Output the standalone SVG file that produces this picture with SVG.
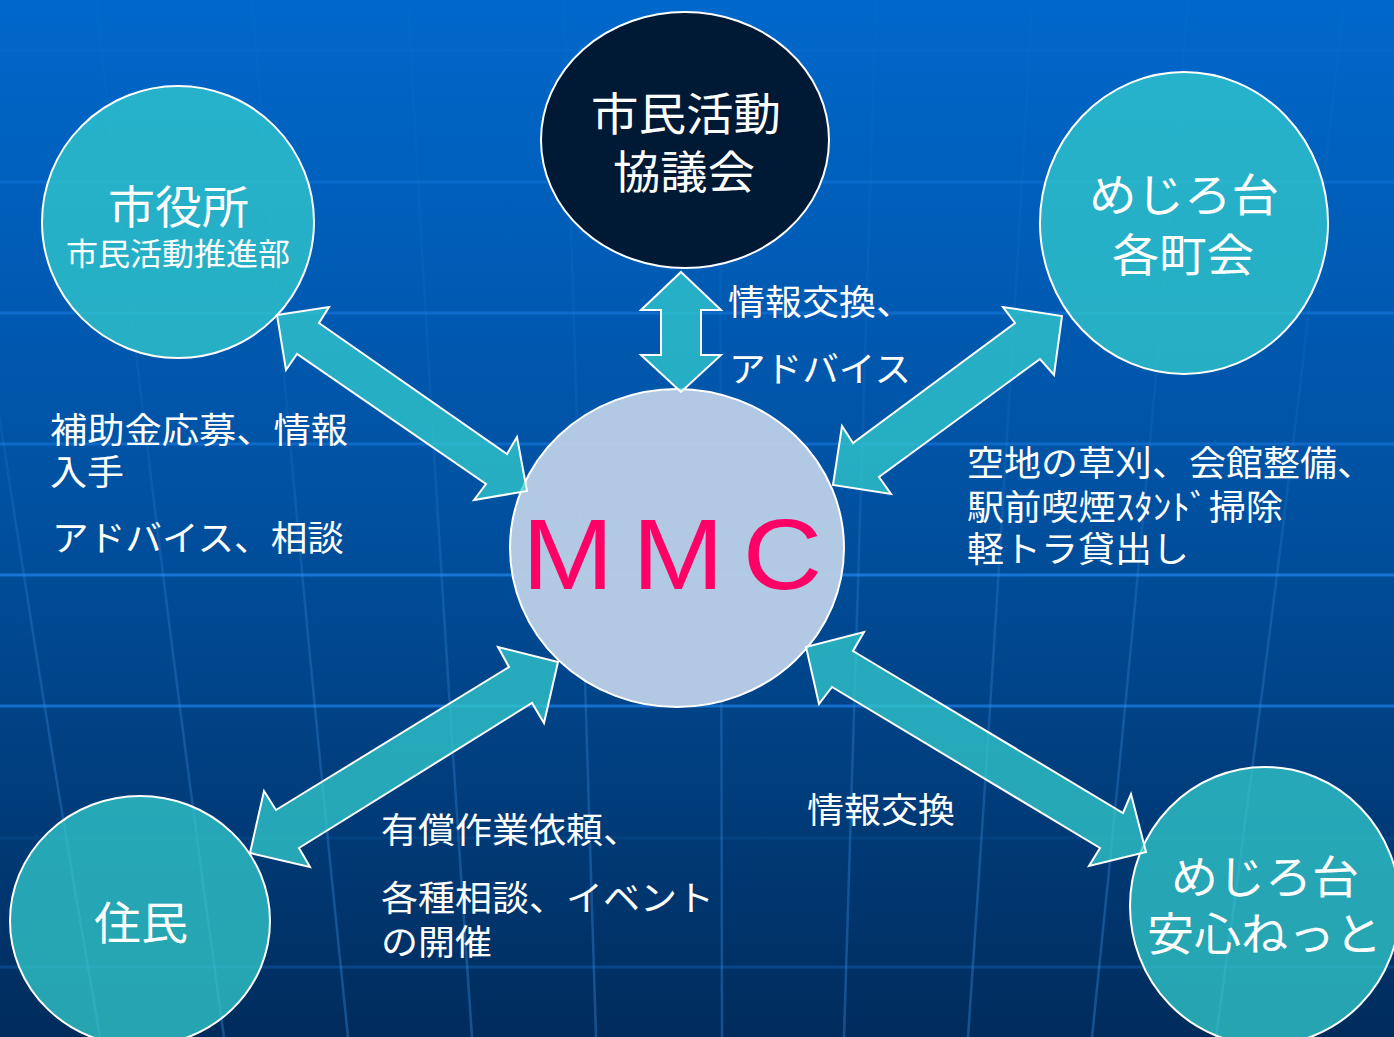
<svg xmlns="http://www.w3.org/2000/svg" width="1394" height="1037" viewBox="0 0 1394 1037">
  <defs>
    <linearGradient id="bg" x1="0" y1="0" x2="0" y2="1">
      <stop offset="0" stop-color="#0068cc"/>
      <stop offset="0.5" stop-color="#00509f"/>
      <stop offset="1" stop-color="#002c5c"/>
    </linearGradient>
    <linearGradient id="vline" gradientUnits="userSpaceOnUse" x1="0" y1="0" x2="0" y2="1037">
      <stop offset="0" stop-color="#3a8ee0" stop-opacity="0.03"/>
      <stop offset="0.4" stop-color="#3a8ee0" stop-opacity="0.12"/>
      <stop offset="0.6" stop-color="#3a8ee0" stop-opacity="0.28"/>
      <stop offset="1" stop-color="#3a8ee0" stop-opacity="0.38"/>
    </linearGradient>
    <style>
      .hl { stroke: #1f86f0; stroke-width: 3; fill: none; }
      .vl { stroke: url(#vline); stroke-width: 2.5; fill: none; }
      .teal { fill: #33cccc; fill-opacity: 0.75; stroke: #ffffff; stroke-width: 2; }
      .dark { fill: #001a36; stroke: #ffffff; stroke-width: 2; }
      .mmc { fill: #bcd0e8; fill-opacity: 0.95; stroke: #ffffff; stroke-width: 2; }
      .arrow { fill: #33cccc; fill-opacity: 0.75; stroke: #ffffff; stroke-width: 2; stroke-linejoin: miter; }
      .t { fill: #ffffff; font-family: "Noto Sans CJK JP", "Noto Sans CJK SC", sans-serif; }
      .big { font-size: 45px; }
      .mid { font-size: 31px; }
      .lab { font-size: 35px; }
      .mmct { fill: #ff0066; font-family: "Liberation Sans", Arial, sans-serif; font-size: 100px; letter-spacing: 17px; }
    </style>
  </defs>

  <g id="background">
    <rect x="0" y="0" width="1394" height="1037" fill="url(#bg)"/>
    <g id="grid-h">
      <line class="hl" x1="0" y1="50" x2="1394" y2="50" stroke-opacity="0.1"/>
      <line class="hl" x1="0" y1="182" x2="1394" y2="182" stroke-opacity="0.3"/>
      <line class="hl" x1="0" y1="313" x2="1394" y2="313" stroke-opacity="0.4"/>
      <line class="hl" x1="0" y1="444" x2="1394" y2="444" stroke-opacity="0.45"/>
      <line class="hl" x1="0" y1="575" x2="1394" y2="575" stroke-opacity="0.7"/>
      <line class="hl" x1="0" y1="706" x2="1394" y2="706" stroke-opacity="0.65"/>
      <line class="hl" x1="0" y1="838" x2="1394" y2="838" stroke-opacity="0.1"/>
      <line class="hl" x1="0" y1="967" x2="1394" y2="967" stroke-opacity="0.25"/>
    </g>
    <g id="grid-v">
      <path class="vl" d="M -60 0 Q 10 518 100 1037"/>
      <path class="vl" d="M 96 0 Q 152 518 224 1037"/>
      <path class="vl" d="M 252 0 Q 294 518 348 1037"/>
      <path class="vl" d="M 408 0 Q 436 518 472 1037"/>
      <path class="vl" d="M 564 0 Q 578 518 596 1037"/>
      <path class="vl" d="M 720 0 Q 720 518 722 1037"/>
      <path class="vl" d="M 876 0 Q 862 518 844 1037"/>
      <path class="vl" d="M 1032 0 Q 1004 518 968 1037"/>
      <path class="vl" d="M 1188 0 Q 1146 518 1092 1037"/>
      <path class="vl" d="M 1344 0 Q 1288 518 1216 1037"/>
    </g>
  </g>

  <g id="node-shiyakusho">
    <ellipse class="teal" cx="178" cy="222" rx="136" ry="136"/>
    <text class="t big" x="108" y="224" textLength="141" lengthAdjust="spacingAndGlyphs">市役所</text>
    <text class="t mid" x="66" y="265" textLength="224" lengthAdjust="spacingAndGlyphs">市民活動推進部</text>
  </g>

  <g id="node-kyogikai">
    <ellipse class="dark" cx="685" cy="140" rx="144" ry="128"/>
    <text class="t big" x="591" y="131" textLength="190" lengthAdjust="spacingAndGlyphs">市民活動</text>
    <text class="t big" x="613" y="189" textLength="142" lengthAdjust="spacingAndGlyphs">協議会</text>
  </g>

  <g id="node-chokai">
    <ellipse class="teal" cx="1184" cy="223" rx="144" ry="151"/>
    <text class="t big" x="1089" y="212" textLength="190" lengthAdjust="spacingAndGlyphs">めじろ台</text>
    <text class="t big" x="1112" y="272" textLength="142" lengthAdjust="spacingAndGlyphs">各町会</text>
  </g>

  <g id="node-mmc">
    <ellipse class="mmc" cx="677" cy="548" rx="167" ry="159"/>
    <text class="mmct" transform="translate(522,589) scale(1.1,1)" x="0" y="0">MMC</text>
  </g>

  <g id="node-jumin">
    <ellipse class="teal" cx="140" cy="921" rx="130" ry="125"/>
    <text class="t big" x="94" y="940" textLength="94" lengthAdjust="spacingAndGlyphs">住民</text>
  </g>

  <g id="node-anshin">
    <ellipse class="teal" cx="1265" cy="906" rx="135" ry="139"/>
    <text class="t big" x="1171" y="894" textLength="188" lengthAdjust="spacingAndGlyphs">めじろ台</text>
    <text class="t big" x="1147" y="951" textLength="235" lengthAdjust="spacingAndGlyphs">安心ねっと</text>
  </g>

  <g id="connectors">
    <polygon class="arrow" points="277,315 329,307 319,323 507,454 517,437 527,491 474,500 486,484 297,354 286,370"/>
    <polygon class="arrow" points="681,272 721,310 701,310 701,355 721,355 681,392 641,355 661,355 661,310 641,310"/>
    <polygon class="arrow" points="1062,316 1054,375 1040,359 879,477 891,494 833,485 842,426 853,443 1015,323 1003,307"/>
    <polygon class="arrow" points="558,662 544,723 532,703 299,848 310,867 250,853 264,791 276,810 509,667 498,647"/>
    <polygon class="arrow" points="806,647 864,632 853,651 1123,813 1131,794 1146,852 1089,866 1100,848 832,687 819,704"/>
  </g>

  <g id="labels">
    <text class="t lab" x="728" y="315" textLength="185" lengthAdjust="spacingAndGlyphs">情報交換、</text>
    <text class="t lab" x="729" y="382" textLength="182" lengthAdjust="spacingAndGlyphs">アドバイス</text>
    <text class="t lab" x="50" y="443" textLength="298" lengthAdjust="spacingAndGlyphs">補助金応募、情報</text>
    <text class="t lab" x="50" y="485" textLength="74" lengthAdjust="spacingAndGlyphs">入手</text>
    <text class="t lab" x="52" y="551" textLength="292" lengthAdjust="spacingAndGlyphs">アドバイス、相談</text>
    <text class="t lab" x="967" y="476" textLength="407" lengthAdjust="spacingAndGlyphs">空地の草刈、会館整備、</text>
    <text class="t lab" x="967" y="520" textLength="316" lengthAdjust="spacingAndGlyphs">駅前喫煙ｽﾀﾝﾄﾞ掃除</text>
    <text class="t lab" x="967" y="562" textLength="222" lengthAdjust="spacingAndGlyphs">軽トラ貸出し</text>
    <text class="t lab" x="381" y="843" textLength="259" lengthAdjust="spacingAndGlyphs">有償作業依頼、</text>
    <text class="t lab" x="381" y="911" textLength="333" lengthAdjust="spacingAndGlyphs">各種相談、イベント</text>
    <text class="t lab" x="381" y="955" textLength="111" lengthAdjust="spacingAndGlyphs">の開催</text>
    <text class="t lab" x="807" y="823" textLength="148" lengthAdjust="spacingAndGlyphs">情報交換</text>
  </g>
</svg>
